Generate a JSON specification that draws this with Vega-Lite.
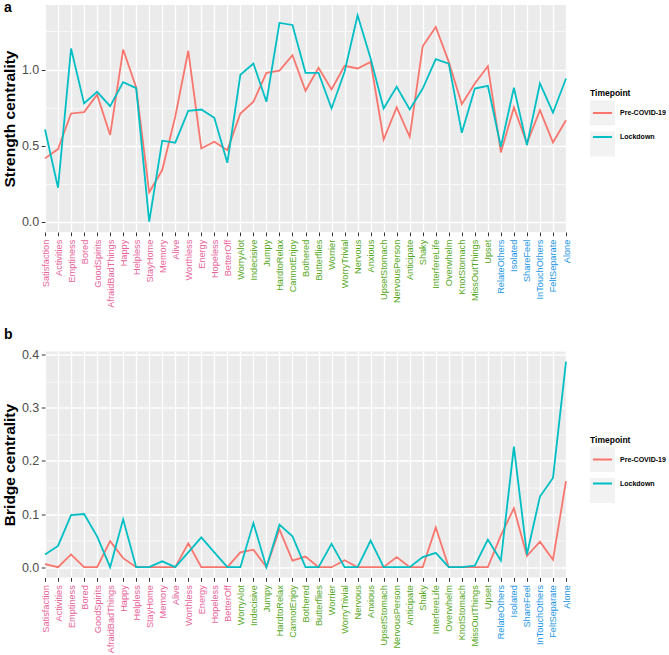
{
  "$schema": "https://vega.github.io/schema/vega-lite/v6.json",
  "background": "white",
  "padding": {"left": 2, "top": 0, "right": 0, "bottom": 0},
  "spacing": 19.5,
  "config": {
    "font": "Liberation Sans",
    "view": {"fill": "#EBEBEB", "stroke": null},
    "axis": {"domain": false, "tickColor": "#333333", "tickSize": 3.7, "tickWidth": 1, "labelFont": "Liberation Sans", "titleFont": "Liberation Sans", "gridColor": "#FFFFFF", "gridWidth": 1.3, "gridOpacity": 1},
    "legend": {"labelFont": "Liberation Sans", "titleFont": "Liberation Sans"}
  },
  "datasets": {
    "d": [
      {"item": "Satisfaction", "tp": "Pre-COVID-19", "strength": 0.416, "bridge": 0.006},
      {"item": "Activities", "tp": "Pre-COVID-19", "strength": 0.477, "bridge": 0},
      {"item": "Emptiness", "tp": "Pre-COVID-19", "strength": 0.711, "bridge": 0.024},
      {"item": "Bored", "tp": "Pre-COVID-19", "strength": 0.72, "bridge": 0},
      {"item": "GoodSpirits", "tp": "Pre-COVID-19", "strength": 0.834, "bridge": 0},
      {"item": "AfraidBadThings", "tp": "Pre-COVID-19", "strength": 0.569, "bridge": 0.049},
      {"item": "Happy", "tp": "Pre-COVID-19", "strength": 1.131, "bridge": 0.017},
      {"item": "Helpless", "tp": "Pre-COVID-19", "strength": 0.882, "bridge": 0},
      {"item": "StayHome", "tp": "Pre-COVID-19", "strength": 0.193, "bridge": 0},
      {"item": "Memory", "tp": "Pre-COVID-19", "strength": 0.339, "bridge": 0},
      {"item": "Alive", "tp": "Pre-COVID-19", "strength": 0.69, "bridge": 0},
      {"item": "Worthless", "tp": "Pre-COVID-19", "strength": 1.123, "bridge": 0.045},
      {"item": "Energy", "tp": "Pre-COVID-19", "strength": 0.481, "bridge": 0},
      {"item": "Hopeless", "tp": "Pre-COVID-19", "strength": 0.525, "bridge": 0},
      {"item": "BetterOff", "tp": "Pre-COVID-19", "strength": 0.47, "bridge": 0},
      {"item": "WorryAlot", "tp": "Pre-COVID-19", "strength": 0.711, "bridge": 0.028},
      {"item": "Indecisive", "tp": "Pre-COVID-19", "strength": 0.788, "bridge": 0.033},
      {"item": "Jumpy", "tp": "Pre-COVID-19", "strength": 0.978, "bridge": 0},
      {"item": "HardtoRelax", "tp": "Pre-COVID-19", "strength": 0.993, "bridge": 0.071},
      {"item": "CannotEnjoy", "tp": "Pre-COVID-19", "strength": 1.094, "bridge": 0.0125},
      {"item": "Bothered", "tp": "Pre-COVID-19", "strength": 0.86, "bridge": 0.02},
      {"item": "Butterflies", "tp": "Pre-COVID-19", "strength": 1.011, "bridge": 0},
      {"item": "Worrier", "tp": "Pre-COVID-19", "strength": 0.869, "bridge": 0},
      {"item": "WorryTrivial", "tp": "Pre-COVID-19", "strength": 1.024, "bridge": 0.013},
      {"item": "Nervous", "tp": "Pre-COVID-19", "strength": 1.007, "bridge": 0},
      {"item": "Anxious", "tp": "Pre-COVID-19", "strength": 1.05, "bridge": 0},
      {"item": "UpsetStomach", "tp": "Pre-COVID-19", "strength": 0.54, "bridge": 0},
      {"item": "NervousPerson", "tp": "Pre-COVID-19", "strength": 0.751, "bridge": 0.019},
      {"item": "Anticipate", "tp": "Pre-COVID-19", "strength": 0.558, "bridge": 0},
      {"item": "Shaky", "tp": "Pre-COVID-19", "strength": 1.153, "bridge": 0},
      {"item": "InterfereLife", "tp": "Pre-COVID-19", "strength": 1.28, "bridge": 0.075},
      {"item": "Overwhelm", "tp": "Pre-COVID-19", "strength": 1.05, "bridge": 0},
      {"item": "KnotStomach", "tp": "Pre-COVID-19", "strength": 0.772, "bridge": 0},
      {"item": "MissOutThings", "tp": "Pre-COVID-19", "strength": 0.908, "bridge": 0},
      {"item": "Upset", "tp": "Pre-COVID-19", "strength": 1.022, "bridge": 0},
      {"item": "RelateOthers", "tp": "Pre-COVID-19", "strength": 0.455, "bridge": 0.06},
      {"item": "Isolated", "tp": "Pre-COVID-19", "strength": 0.751, "bridge": 0.111},
      {"item": "ShareFeel", "tp": "Pre-COVID-19", "strength": 0.514, "bridge": 0.021},
      {"item": "InTouchOthers", "tp": "Pre-COVID-19", "strength": 0.733, "bridge": 0.048},
      {"item": "FeltSeparate", "tp": "Pre-COVID-19", "strength": 0.521, "bridge": 0.014},
      {"item": "Alone", "tp": "Pre-COVID-19", "strength": 0.667, "bridge": 0.162},
      {"item": "Satisfaction", "tp": "Lockdown", "strength": 0.606, "bridge": 0.024},
      {"item": "Activities", "tp": "Lockdown", "strength": 0.223, "bridge": 0.04},
      {"item": "Emptiness", "tp": "Lockdown", "strength": 1.138, "bridge": 0.098},
      {"item": "Bored", "tp": "Lockdown", "strength": 0.777, "bridge": 0.1},
      {"item": "GoodSpirits", "tp": "Lockdown", "strength": 0.853, "bridge": 0.058},
      {"item": "AfraidBadThings", "tp": "Lockdown", "strength": 0.759, "bridge": 0},
      {"item": "Happy", "tp": "Lockdown", "strength": 0.917, "bridge": 0.09},
      {"item": "Helpless", "tp": "Lockdown", "strength": 0.877, "bridge": 0},
      {"item": "StayHome", "tp": "Lockdown", "strength": 0, "bridge": 0},
      {"item": "Memory", "tp": "Lockdown", "strength": 0.532, "bridge": 0.011},
      {"item": "Alive", "tp": "Lockdown", "strength": 0.519, "bridge": 0},
      {"item": "Worthless", "tp": "Lockdown", "strength": 0.729, "bridge": 0.028},
      {"item": "Energy", "tp": "Lockdown", "strength": 0.737, "bridge": 0.056},
      {"item": "Hopeless", "tp": "Lockdown", "strength": 0.683, "bridge": 0.028},
      {"item": "BetterOff", "tp": "Lockdown", "strength": 0.387, "bridge": 0},
      {"item": "WorryAlot", "tp": "Lockdown", "strength": 0.965, "bridge": 0},
      {"item": "Indecisive", "tp": "Lockdown", "strength": 1.039, "bridge": 0.083},
      {"item": "Jumpy", "tp": "Lockdown", "strength": 0.788, "bridge": 0},
      {"item": "HardtoRelax", "tp": "Lockdown", "strength": 1.306, "bridge": 0.08},
      {"item": "CannotEnjoy", "tp": "Lockdown", "strength": 1.293, "bridge": 0.058},
      {"item": "Bothered", "tp": "Lockdown", "strength": 0.978, "bridge": 0},
      {"item": "Butterflies", "tp": "Lockdown", "strength": 0.978, "bridge": 0},
      {"item": "Worrier", "tp": "Lockdown", "strength": 0.744, "bridge": 0.044},
      {"item": "WorryTrivial", "tp": "Lockdown", "strength": 0.985, "bridge": 0},
      {"item": "Nervous", "tp": "Lockdown", "strength": 1.357, "bridge": 0},
      {"item": "Anxious", "tp": "Lockdown", "strength": 1.072, "bridge": 0.05},
      {"item": "UpsetStomach", "tp": "Lockdown", "strength": 0.744, "bridge": 0},
      {"item": "NervousPerson", "tp": "Lockdown", "strength": 0.886, "bridge": 0},
      {"item": "Anticipate", "tp": "Lockdown", "strength": 0.737, "bridge": 0},
      {"item": "Shaky", "tp": "Lockdown", "strength": 0.875, "bridge": 0.019},
      {"item": "InterfereLife", "tp": "Lockdown", "strength": 1.068, "bridge": 0.027},
      {"item": "Overwhelm", "tp": "Lockdown", "strength": 1.039, "bridge": 0},
      {"item": "KnotStomach", "tp": "Lockdown", "strength": 0.584, "bridge": 0},
      {"item": "MissOutThings", "tp": "Lockdown", "strength": 0.875, "bridge": 0.003},
      {"item": "Upset", "tp": "Lockdown", "strength": 0.893, "bridge": 0.052},
      {"item": "RelateOthers", "tp": "Lockdown", "strength": 0.492, "bridge": 0.0125},
      {"item": "Isolated", "tp": "Lockdown", "strength": 0.88, "bridge": 0.227},
      {"item": "ShareFeel", "tp": "Lockdown", "strength": 0.503, "bridge": 0.024},
      {"item": "InTouchOthers", "tp": "Lockdown", "strength": 0.908, "bridge": 0.133},
      {"item": "FeltSeparate", "tp": "Lockdown", "strength": 0.716, "bridge": 0.168},
      {"item": "Alone", "tp": "Lockdown", "strength": 0.941, "bridge": 0.387}
    ]
  },
  "resolve": {
    "scale": {"y": "independent", "color": "independent", "stroke": "independent"},
    "legend": {"color": "independent", "stroke": "independent"}
  },
  "vconcat": [
    {
      "width": 521,
      "height": 227,
      "data": {"name": "d"},
      "title": {"text": "a", "anchor": "start", "frame": "group", "orient": "top", "offset": -20.5, "baseline": "alphabetic", "dx": -41, "fontSize": 14, "fontWeight": "bold", "font": "Liberation Sans", "color": "#000000"},
      "resolve": {"axis": {"y": "independent"}},
      "layer": [
        {
          "mark": {"type": "point", "shape": "square", "filled": true, "opacity": 0},
          "encoding": {
            "x": {"field": "item", "type": "nominal", "sort": null, "scale": {"type": "point", "padding": 0},
                  "axis": {"title": null, "labelAngle": -90, "labelFontSize": 9.2, "labelPadding": 3.5, "labelOverlap": false, "labelBound": false, "grid": true,
                           "labelColor": {"condition": [{"test": "datum.index < 0.36", "value": "#E8649A"}, {"test": "datum.index < 0.86", "value": "#55A81C"}], "value": "#1B96E6"}}},
            "y": {"field": "strength", "type": "quantitative", "scale": {"domain": [-0.068, 1.424], "nice": false, "zero": false},
                  "axis": {"orient": "right", "values": [0.25, 0.75, 1.25], "labels": false, "ticks": false, "domain": false, "title": null, "grid": true, "gridWidth": 0.6}},
            "color": {"field": "tp", "type": "nominal", "scale": {"range": ["#F2F2F2", "#F2F2F2"]},
                      "legend": {"orient": "none", "legendX": 545, "legendY": 84, "padding": 0, "title": " ", "titleFontSize": 8.5, "titleFontWeight": "bold", "titlePadding": 3, "labelFontSize": 7, "labelOffset": 5, "labelExpr": "''", "symbolType": "square", "symbolSize": 529, "symbolStrokeWidth": 2, "symbolStrokeColor": "#F2F2F2", "symbolOpacity": 1, "symbolOffset": 0, "rowPadding": 0}}
          }
        },
        {
          "mark": {"type": "line", "strokeWidth": 1.8},
          "encoding": {
            "x": {"field": "item", "type": "nominal", "sort": null, "scale": {"type": "point", "padding": 0},
                  "axis": {"title": null, "labelAngle": -90, "labelFontSize": 9.2, "labelPadding": 3.5, "labelOverlap": false, "labelBound": false, "grid": true,
                           "labelColor": {"condition": [{"test": "datum.index < 0.36", "value": "#E8649A"}, {"test": "datum.index < 0.86", "value": "#55A81C"}], "value": "#1B96E6"}}},
            "y": {"field": "strength", "type": "quantitative", "scale": {"domain": [-0.068, 1.424], "nice": false, "zero": false},
                  "axis": {"orient": "left", "values": [0, 0.5, 1], "format": ".1f", "title": "Strength centrality", "titleFontSize": 15.5, "titleFontWeight": "bold", "titleColor": "#000000", "titlePadding": 3.5, "labelFontSize": 12.5, "labelColor": "#4D4D4D", "labelPadding": 2.5, "grid": true}},
            "stroke": {"field": "tp", "type": "nominal", "scale": {"domain": ["Pre-COVID-19", "Lockdown"], "range": ["#F8766D", "#00BFC4"]},
                       "legend": {"orient": "none", "legendX": 545, "legendY": 84, "padding": 0, "title": "Timepoint", "titleFontSize": 8.5, "titleFontWeight": "bold", "titleColor": "#000000", "titlePadding": 3, "labelFontSize": 7, "labelFontWeight": "bold", "labelColor": "#000000", "labelOffset": 5, "symbolType": "M-0.83,0H0.83", "symbolSize": 529, "symbolStrokeWidth": 2, "symbolOffset": 0, "rowPadding": 7}}
          }
        }
      ]
    },
    {
      "width": 521,
      "height": 226,
      "data": {"name": "d"},
      "title": {"text": "b", "anchor": "start", "frame": "group", "orient": "top", "offset": -4, "baseline": "alphabetic", "dx": -41, "fontSize": 14, "fontWeight": "bold", "font": "Liberation Sans", "color": "#000000"},
      "resolve": {"axis": {"y": "independent"}},
      "layer": [
        {
          "mark": {"type": "point", "shape": "square", "filled": true, "opacity": 0},
          "encoding": {
            "x": {"field": "item", "type": "nominal", "sort": null, "scale": {"type": "point", "padding": 0},
                  "axis": {"title": null, "labelAngle": -90, "labelFontSize": 9.2, "labelPadding": 3.5, "labelOverlap": false, "labelBound": false, "grid": true,
                           "labelColor": {"condition": [{"test": "datum.index < 0.36", "value": "#E8649A"}, {"test": "datum.index < 0.86", "value": "#55A81C"}], "value": "#1B96E6"}}},
            "y": {"field": "bridge", "type": "quantitative", "scale": {"domain": [-0.0194, 0.406], "nice": false, "zero": false},
                  "axis": {"orient": "right", "values": [0.05, 0.15, 0.25, 0.35], "labels": false, "ticks": false, "domain": false, "title": null, "grid": true, "gridWidth": 0.6}},
            "color": {"field": "tp", "type": "nominal", "scale": {"range": ["#F2F2F2", "#F2F2F2"]},
                      "legend": {"orient": "none", "legendX": 545, "legendY": 84, "padding": 0, "title": " ", "titleFontSize": 8.5, "titleFontWeight": "bold", "titlePadding": 3, "labelFontSize": 7, "labelOffset": 5, "labelExpr": "''", "symbolType": "square", "symbolSize": 529, "symbolStrokeWidth": 2, "symbolStrokeColor": "#F2F2F2", "symbolOpacity": 1, "symbolOffset": 0, "rowPadding": 0}}
          }
        },
        {
          "mark": {"type": "line", "strokeWidth": 1.8},
          "encoding": {
            "x": {"field": "item", "type": "nominal", "sort": null, "scale": {"type": "point", "padding": 0},
                  "axis": {"title": null, "labelAngle": -90, "labelFontSize": 9.2, "labelPadding": 3.5, "labelOverlap": false, "labelBound": false, "grid": true,
                           "labelColor": {"condition": [{"test": "datum.index < 0.36", "value": "#E8649A"}, {"test": "datum.index < 0.86", "value": "#55A81C"}], "value": "#1B96E6"}}},
            "y": {"field": "bridge", "type": "quantitative", "scale": {"domain": [-0.0194, 0.406], "nice": false, "zero": false},
                  "axis": {"orient": "left", "values": [0, 0.1, 0.2, 0.3, 0.4], "format": ".1f", "title": "Bridge centrality", "titleFontSize": 15.5, "titleFontWeight": "bold", "titleColor": "#000000", "titlePadding": 3.5, "labelFontSize": 12.5, "labelColor": "#4D4D4D", "labelPadding": 2.5, "grid": true}},
            "stroke": {"field": "tp", "type": "nominal", "scale": {"domain": ["Pre-COVID-19", "Lockdown"], "range": ["#F8766D", "#00BFC4"]},
                       "legend": {"orient": "none", "legendX": 545, "legendY": 84, "padding": 0, "title": "Timepoint", "titleFontSize": 8.5, "titleFontWeight": "bold", "titleColor": "#000000", "titlePadding": 3, "labelFontSize": 7, "labelFontWeight": "bold", "labelColor": "#000000", "labelOffset": 5, "symbolType": "M-0.83,0H0.83", "symbolSize": 529, "symbolStrokeWidth": 2, "symbolOffset": 0, "rowPadding": 7}}
          }
        }
      ]
    }
  ]
}
